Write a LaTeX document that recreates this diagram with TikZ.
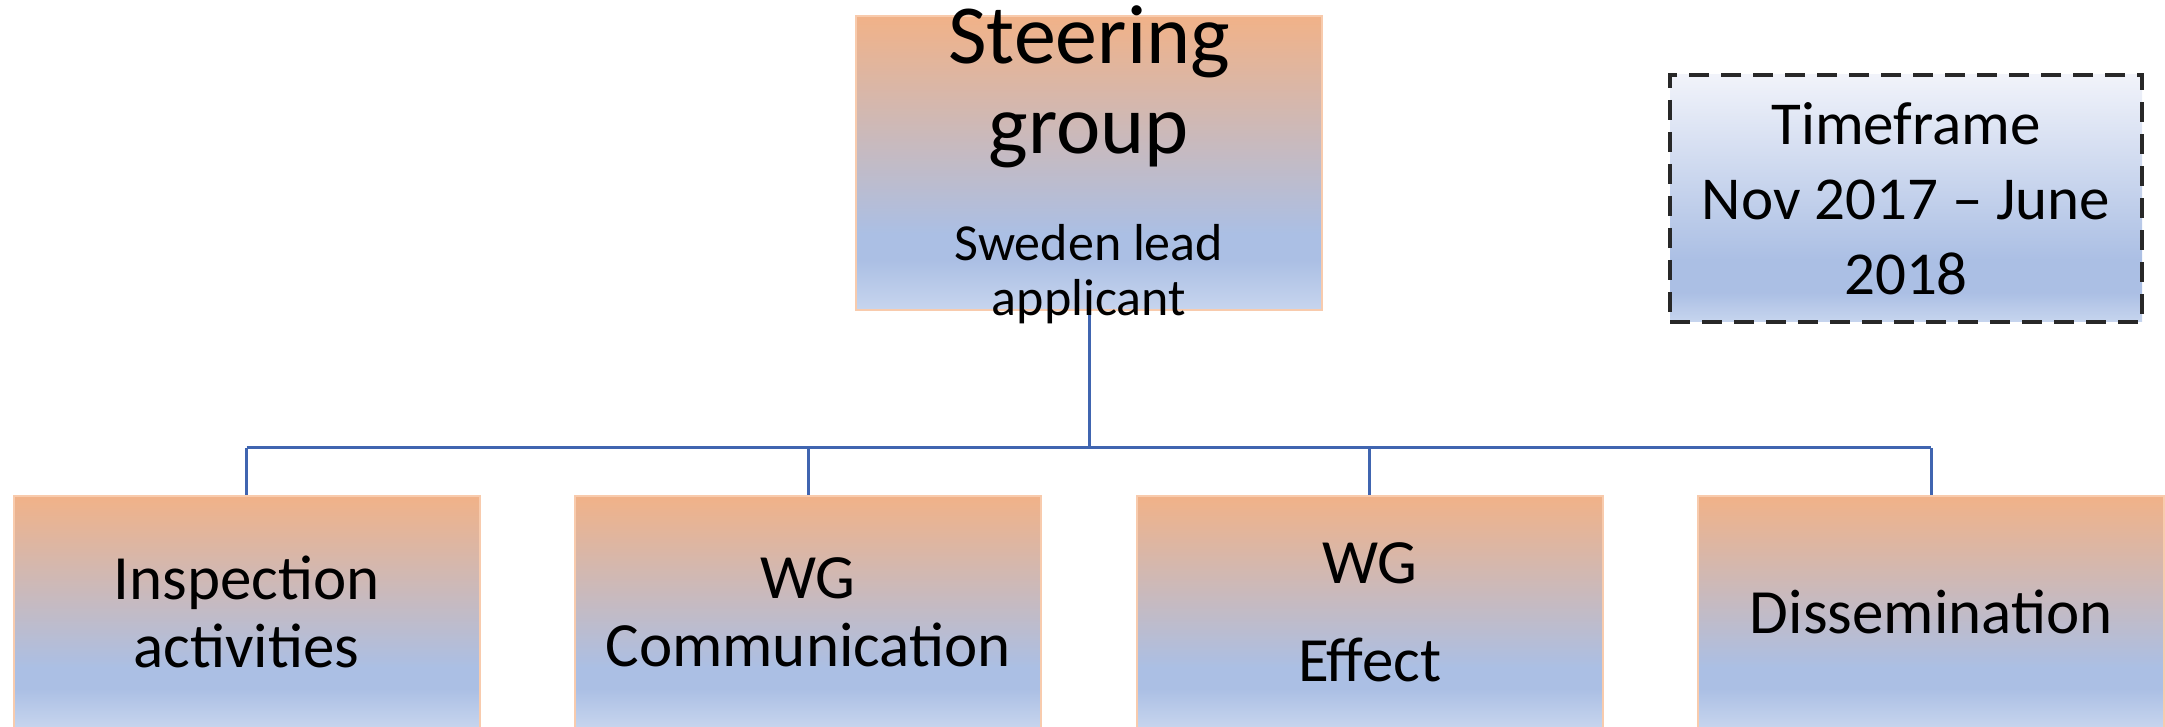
\documentclass[tikz,border=0pt]{standalone}
\usepackage{fontspec}
\setmainfont{Carlito}
\usetikzlibrary{positioning}

\definecolor{orng}{RGB}{241,178,136}
\definecolor{midblue}{RGB}{171,191,228}
\definecolor{lowblue}{RGB}{199,213,238}
\definecolor{toppale}{RGB}{241,243,250}
\definecolor{edgeorange}{RGB}{248,203,173}
\definecolor{linkblue}{RGB}{64,101,176}
\definecolor{dashgray}{RGB}{40,40,40}

\pgfdeclareverticalshading{orangeblue}{100bp}{color(0bp)=(lowblue); color(25bp)=(lowblue); color(33.5bp)=(midblue); color(38bp)=(midblue); color(75bp)=(orng); color(100bp)=(orng)}
\pgfdeclareverticalshading{paleblue}{100bp}{color(0bp)=(lowblue); color(25bp)=(lowblue); color(31bp)=(midblue); color(37.5bp)=(midblue); color(75bp)=(toppale); color(100bp)=(toppale)}

\begin{document}
\begin{tikzpicture}[node distance=280.8pt,on grid,
    box/.style={draw=edgeorange,line width=1pt,shade,shading=orangeblue,minimum width=233pt,inner sep=0pt,align=center},
    wgbox/.style={box,minimum height=116pt,font=\fontsize{31.5}{34}\selectfont},
    link/.style={draw=linkblue,line width=1.5pt}]

      \useasboundingbox (0,0) rectangle (1082.5pt,363.5pt);
      \clip (0,0) rectangle (1082.5pt,363.5pt);

      \node[box,minimum height=147pt] (steer) at (544.5pt,282pt) {};

      \node[wgbox]  (insp) at (123.25pt,57.5pt) {Inspection\\activities};
      \node[wgbox]  (comm)   [right=of insp]   {WG\\Communication};
      \node[wgbox]  (effect) [right=of comm]   {WG\\[15pt]Effect};
      \node[wgbox]  (diss)   [right=of effect] {Dissemination};

      \node[draw=dashgray,line width=2pt,dash pattern=on 10pt off 6pt,shade,shading=paleblue,
            minimum width=236pt,minimum height=123.5pt,align=center,
            font=\fontsize{30.5}{37.5}\selectfont] (time) at (953pt,264.25pt)
            {Timeframe\\Nov 2017 – June\\2018};

      \coordinate (bus) at (0,139.5pt);
      \draw[link] (steer.south) -- (steer.south |- bus);
      \draw[link] (bus -| insp.north) -- (bus -| diss.north);
      \foreach \b in {insp,comm,effect,diss}
        \draw[link] (bus -| \b.north) -- (\b.north);

      \node[font=\fontsize{42}{45}\selectfont,align=center,anchor=base] (steertitle)
            at ([yshift=-69.5pt]steer.north) {Steering\\group};
      \node[font=\fontsize{26}{27.5}\selectfont,align=center,anchor=base] (steersub)
            at ([yshift=-150.5pt]steer.north) {Sweden lead\\applicant};
    \end{tikzpicture}
\end{document}
